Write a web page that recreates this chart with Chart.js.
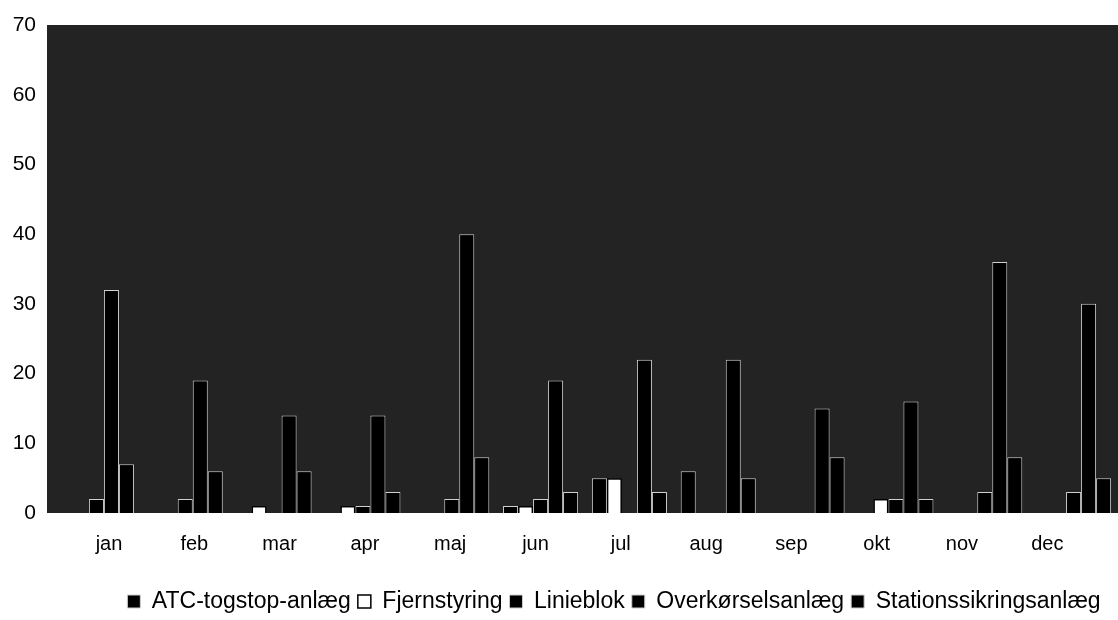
<!DOCTYPE html>
<html>
<head>
<meta charset="utf-8">
<script src="https://cdn.jsdelivr.net/npm/chart.js"></script>
<style>
  body { margin: 0; background: #ffffff; }
  #wrap { width: 1118px; height: 620px; }
</style>
</head>
<body>
<div id="wrap"><canvas id="myChart"></canvas></div>
<script>
const months = ['jan', 'feb', 'mar', 'apr', 'maj', 'jun', 'jul', 'aug', 'sep', 'okt', 'nov', 'dec'];

const atc = [0, 0, 0, 0, 0, 1, 5, 6, 0, 0, 0, 0];
const fjernstyring = [0, 0, 1, 1, 0, 1, 5, 0, 0, 2, 0, 0];
const linieblok = [2, 2, 0, 1, 2, 2, 0, 0, 0, 2, 3, 3];
const overkorsel = [32, 19, 14, 14, 40, 19, 22, 22, 15, 16, 36, 30];
const stationssikring = [7, 6, 6, 3, 8, 3, 3, 5, 8, 2, 8, 5];

const yTicks = [0, 10, 20, 30, 40, 50, 60, 70];

// dark scanned plot background (starts a few px left of the bar area)
const plotBg = {
  id: 'plotBg',
  beforeDraw(chart) {
    const { ctx, chartArea } = chart;
    ctx.save();
    ctx.fillStyle = '#232323';
    ctx.fillRect(chartArea.left - 5, chartArea.top, chartArea.right - chartArea.left + 5, chartArea.bottom - chartArea.top);
    ctx.restore();
  }
};

// the scan is cut on the right, so the legend sits right of the canvas centre
const legendShift = {
  id: 'legendShift',
  afterLayout(chart) {
    chart.legend.left += 55;
    chart.legend.right += 55;
    chart.legend.top += 3;
    chart.legend.bottom += 3;
  }
};

const ctx = document.getElementById('myChart');

new Chart(ctx, {
  type: 'bar',
  data: {
    labels: months,
    datasets: [
      { label: 'ATC-togstop-anlæg', data: atc, backgroundColor: '#000000', borderColor: '#cfcfcf', borderWidth: 1 },
      { label: 'Fjernstyring', data: fjernstyring, backgroundColor: '#ffffff', borderColor: '#000000', borderWidth: 1.5 },
      { label: 'Linieblok', data: linieblok, backgroundColor: '#000000', borderColor: '#cfcfcf', borderWidth: 1 },
      { label: 'Overkørselsanlæg', data: overkorsel, backgroundColor: '#000000', borderColor: '#cfcfcf', borderWidth: 1 },
      { label: 'Stationssikringsanlæg', data: stationssikring, backgroundColor: '#000000', borderColor: '#cfcfcf', borderWidth: 1 }
    ]
  },
  options: {
    responsive: true,
    maintainAspectRatio: false,
    animation: false,
    layout: { padding: { top: 25, right: 0, left: 0, bottom: 0 } },
    datasets: {
      bar: { categoryPercentage: 0.845, barPercentage: 1.0, borderSkipped: 'bottom' }
    },
    scales: {
      x: {
        display: false
      },
      // month labels of the scan are spaced a little tighter than the bars
      xLabels: {
        type: 'linear',
        position: 'bottom',
        offset: false,
        min: -0.668,
        max: 11.829,
        afterBuildTicks: scale => { scale.ticks = months.map((m, i) => ({ value: i })); },
        grid: { display: false, drawTicks: false, offset: false },
        border: { display: false },
        ticks: {
          color: '#000',
          padding: 19,
          autoSkip: false,
          maxRotation: 0,
          font: { family: 'Liberation Sans', size: 20 },
          callback: v => months[v]
        },
        afterFit: scale => { scale.height = 67; }
      },
      y: {
        min: 0,
        max: 70,
        afterBuildTicks: scale => { scale.ticks = yTicks.map(v => ({ value: v })); },
        grid: { display: false, drawTicks: false },
        border: { display: false },
        ticks: { color: '#000', padding: 16, font: { family: 'Liberation Sans', size: 21 } },
        afterFit: scale => {
          scale.width = 52;
          scale.paddingTop = 0;
          scale.paddingBottom = 0;
        }
      }
    },
    plugins: {
      legend: {
        position: 'bottom',
        labels: {
          color: '#000',
          boxWidth: 13,
          boxHeight: 13,
          padding: 7,
          font: { family: 'Liberation Sans', size: 23 }
        }
      },
      tooltip: { enabled: false }
    }
  },
  plugins: [plotBg, legendShift]
});
</script>
</body>
</html>
